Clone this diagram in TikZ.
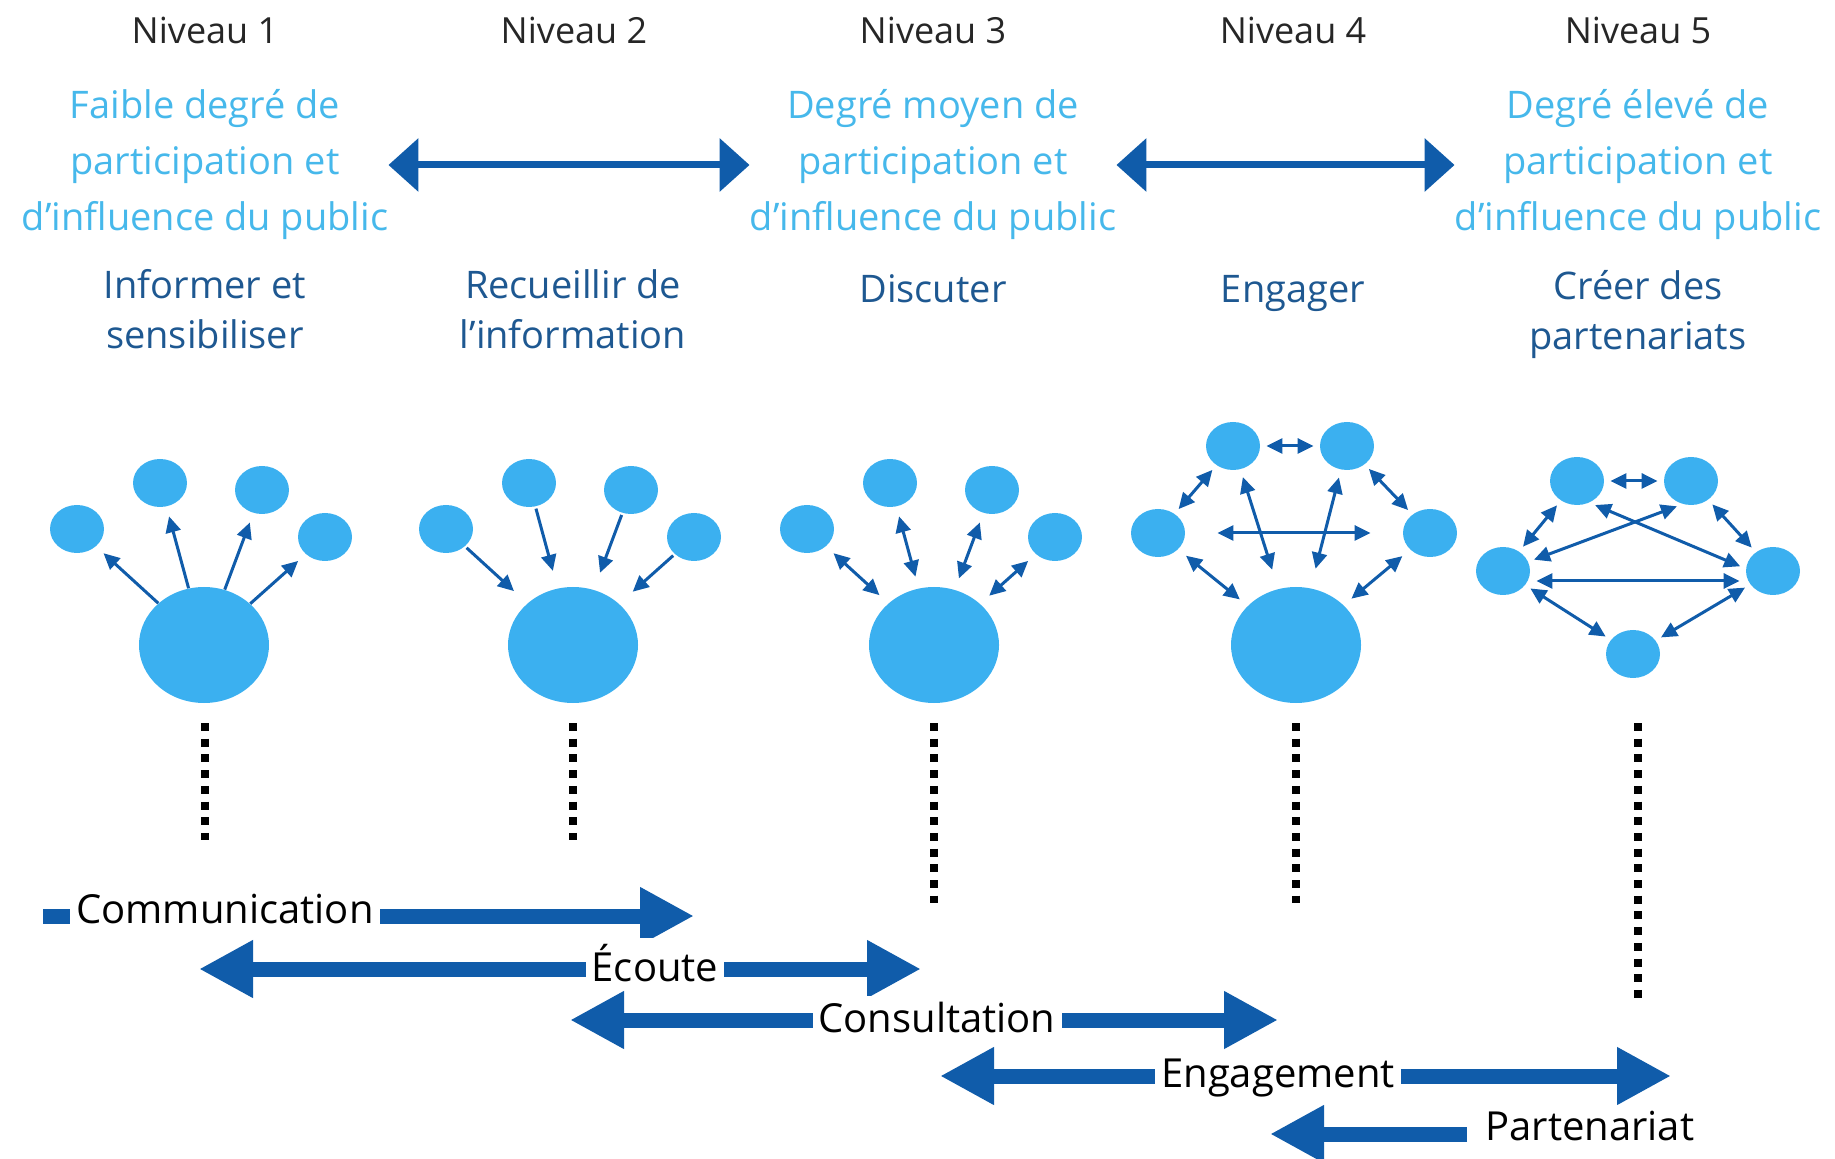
\documentclass[tikz,border=0pt]{standalone}
\usepackage{fontspec}
\setmainfont{Open Sans}
\usetikzlibrary{arrows.meta,shapes.geometric}

\definecolor{ciel}{RGB}{59,176,240}
\definecolor{cieltexte}{RGB}{70,184,235}
\definecolor{marine}{RGB}{16,92,170}
\definecolor{marinetexte}{RGB}{30,88,145}

\tikzset{
	niveau/.style={text=black!85, font=\fontsize{18}{22}\selectfont},
	degre/.style={align=center, inner sep=0pt, text=cieltexte, font=\fontsize{19}{28}\selectfont},
	action/.style={align=center, text=marinetexte, font=\fontsize{19}{25}\selectfont},
	petit/.style={ellipse, fill=ciel, minimum width=27pt, minimum height=24pt, inner sep=0pt},
	grand/.style={ellipse, fill=ciel, minimum width=65pt, minimum height=58pt, inner sep=0pt},
	fl/.style={marine, line width=1.5pt, -{Triangle[length=8pt,width=7.5pt]}},
	dfl/.style={marine, line width=1.5pt, {Triangle[length=8pt,width=7.5pt]}-{Triangle[length=8pt,width=7.5pt]}},
	pointe/.style={marine, line width=3.5pt, {Triangle[length=15pt,width=26pt]}-{Triangle[length=15pt,width=26pt]}},
	large/.style={marine, line width=7.5pt},
	grosse/.tip={Triangle[length=27pt,width=27pt]},
	etiq/.style={fill=white, inner xsep=3pt, inner ysep=3pt, text=black, font=\fontsize{20}{24}\selectfont},
	pointilles/.style={line width=4pt, dash pattern=on 4pt off 3.85pt}
}

\begin{document}
\begin{tikzpicture}[x=0.5pt, y=-0.5pt]
	\useasboundingbox (0,0) rectangle (1835,1159);
	% titres
	\foreach \i/\x in {1/205, 2/574, 3/933, 4/1293, 5/1638}
		\node[niveau] (niveau\i) at (\x,30) {Niveau \i};
	\node[degre] (degre1) at (205,165) {Faible degré de\\participation et\\d'influence du public};
	\node[degre] (degre3) at (933,165) {Degré moyen de\\participation et\\d'influence du public};
	\node[degre] (degre5) at (1638,165) {Degré élevé de\\participation et\\d'influence du public};
	\draw[pointe] (degre1.east) -- (degre3.west);
	\draw[pointe] (degre3.east) -- (degre5.west);
	\node[action] (informer) at (205,309) {Informer et\\sensibiliser};
	\node[action] (recueillir) at (573,309) {Recueillir de\\l'information};
	\node[action] (discuter) at (933,289) {Discuter};
	\node[action] (engager) at (1293,294) {Engager};
	\node[action] (creer) at (1638,315) {Créer des\\partenariats};

	% niveaux 1 a 3
	\foreach \n/\x in {1/204, 2/573, 3/934} {
		\node[grand] (g\n-big) at (\x,645) {};
		\foreach \i/\dx/\y in {1/-127/529, 2/-44/483, 3/58/490, 4/121/537}
			\node[petit] (g\n-s\i) at (\x+\dx,\y) {};
	}
	\foreach \i in {1,...,4} {
		\draw[fl, shorten >=5pt] (g1-big) -- (g1-s\i);
		\draw[fl, shorten <=1pt, shorten >=9pt] (g2-s\i) -- (g2-big);
		\draw[dfl, shorten <=6pt, shorten >=5pt] (g3-big) -- (g3-s\i);
	}

	% niveau 4
	\node[grand] (g4-big) at (1296,645) {};
	\node[petit] (g4-tl) at (1233,446) {};
	\node[petit] (g4-tr) at (1347,446) {};
	\node[petit] (g4-l) at (1158,533) {};
	\node[petit] (g4-r) at (1430,533) {};
	\draw[dfl, shorten <=3pt, shorten >=3pt] (g4-tl) -- (g4-tr);
	\draw[dfl, shorten <=3pt, shorten >=3pt] (g4-tl) -- (g4-l);
	\draw[dfl, shorten <=3pt, shorten >=3pt] (g4-tr) -- (g4-r);
	\draw[dfl, shorten <=5pt, shorten >=5pt] (g4-l) -- (g4-big);
	\draw[dfl, shorten <=5pt, shorten >=5pt] (g4-r) -- (g4-big);
	\draw[dfl, shorten <=16pt, shorten >=16pt] (g4-l) -- (g4-r);
	\draw[dfl, shorten <=4pt, shorten >=10pt] (g4-tl) -- (g4-big);
	\draw[dfl, shorten <=4pt, shorten >=10pt] (g4-tr) -- (g4-big);

	% niveau 5
	\node[petit] (g5-tl) at (1577,481) {};
	\node[petit] (g5-tr) at (1691,481) {};
	\node[petit] (g5-l) at (1503,571) {};
	\node[petit] (g5-r) at (1773,571) {};
	\node[petit] (g5-b) at (1633,654) {};
	\draw[dfl, shorten <=3pt, shorten >=3pt] (g5-tl) -- (g5-tr);
	\draw[dfl, shorten <=3pt, shorten >=3pt] (g5-tl) -- (g5-l);
	\draw[dfl, shorten <=3pt, shorten >=3pt] (g5-tr) -- (g5-r);
	\draw[dfl, shorten <=3pt, shorten >=3pt] (g5-l) -- (g5-b);
	\draw[dfl, shorten <=3pt, shorten >=3pt] (g5-r) -- (g5-b);
	\draw[dfl, shorten <=3pt, shorten >=3pt] ([yshift=-5pt]g5-l.east) -- ([yshift=-5pt]g5-r.west);
	\draw[dfl, shorten <=3pt, shorten >=3pt] (g5-tl.-60) -- (g5-r.175);
	\draw[dfl, shorten <=3pt, shorten >=3pt] (g5-tr.250) -- (g5-l.20);

	% pointilles
	\foreach \x/\yfin in {205/840, 573/840, 934/903, 1296/903, 1638/1000}
		\draw[pointilles] (\x,723) -- (\x,\yfin);

	% bandes du bas
	\coordinate (com-a) at (43,916);
	\coordinate (com-b) at (694,916);
	\coordinate (eco-a) at (199,969);
	\coordinate (eco-b) at (921,969);
	\coordinate (con-a) at (570,1020);
	\coordinate (con-b) at (1278,1020);
	\coordinate (eng-a) at (940,1076);
	\coordinate (eng-b) at (1671,1076);
	\coordinate (par-a) at (1270,1134);
	\draw[large, -grosse] (com-a) -- (com-b);
	\draw[large, grosse-grosse] (eco-a) -- (eco-b);
	\draw[large, grosse-grosse] (con-a) -- (con-b);
	\draw[large, grosse-grosse] (eng-a) -- (eng-b);
	\node[etiq] (communication) at (225,909) {Communication};
	\node[etiq] (ecoute) at (655,963) {Écoute};
	\node[etiq] (consultation) at (937,1017) {Consultation};
	\node[etiq] (engagement) at (1278,1078) {Engagement};
	\node[etiq, anchor=west] (partenariat) at (1479,1126) {Partenariat};
	\draw[large, -grosse, shorten <=6pt] (partenariat.west |- par-a) -- (par-a);
\end{tikzpicture}
\end{document}
